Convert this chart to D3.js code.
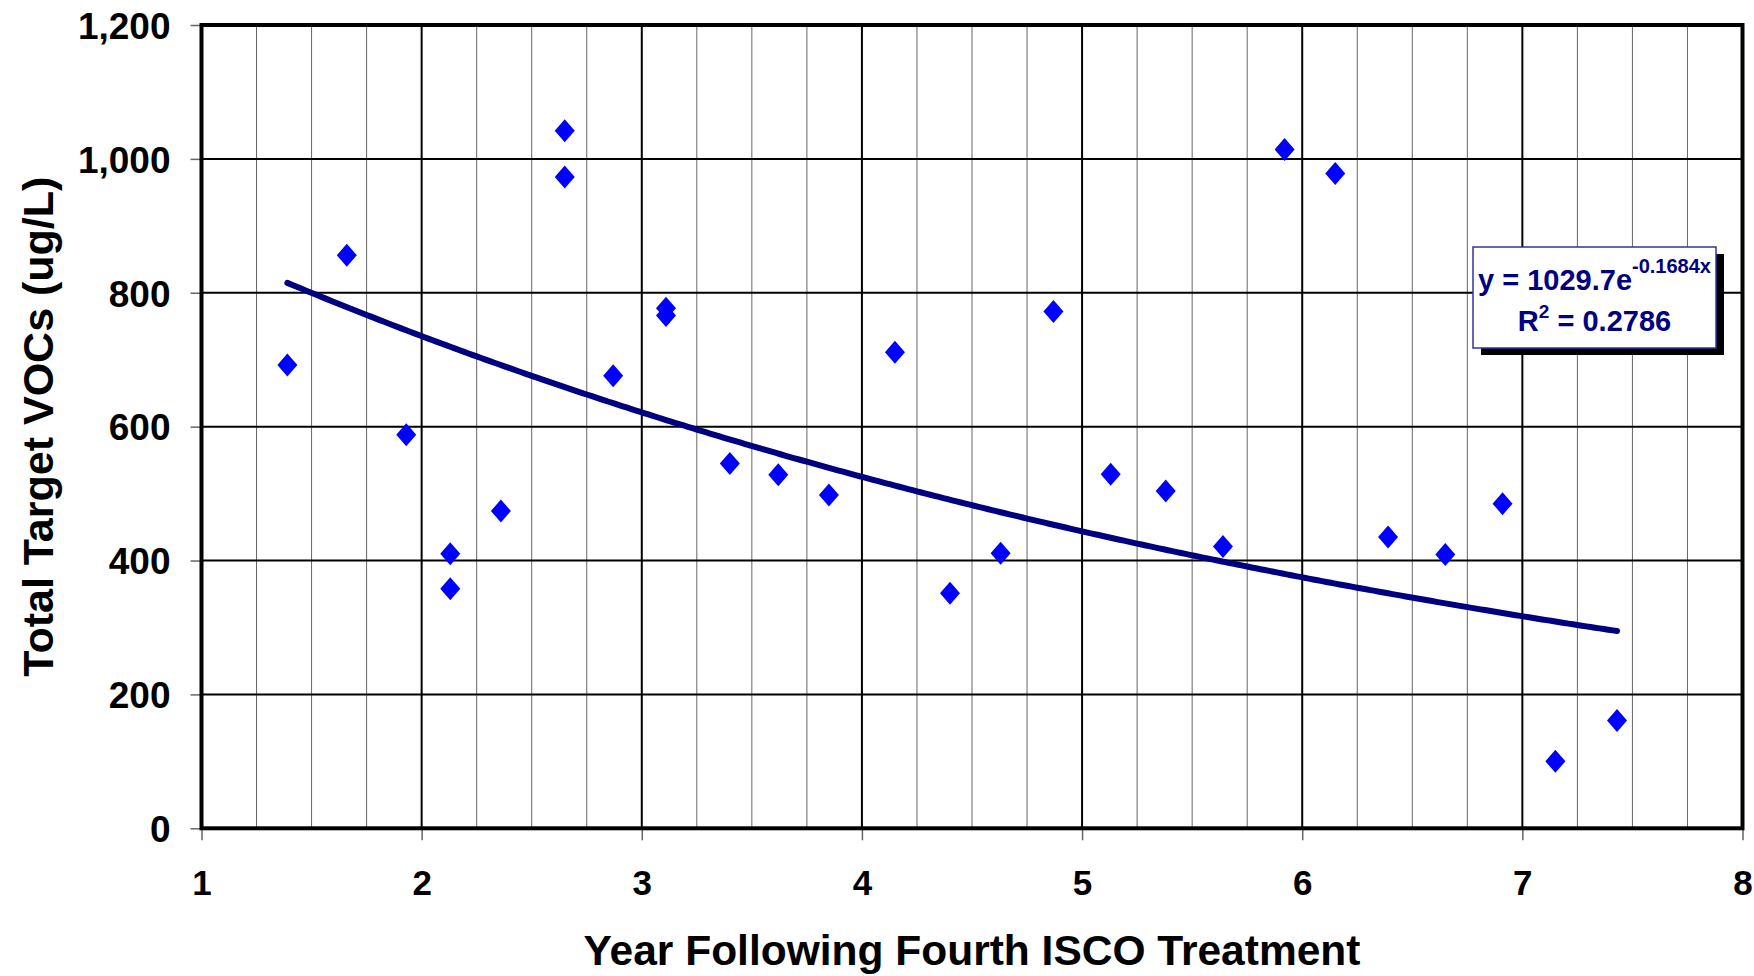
<!DOCTYPE html>
<html>
<head>
<meta charset="utf-8">
<script src="https://cdn.jsdelivr.net/npm/d3@7"></script>
<style>
  html, body { margin: 0; padding: 0; background: #fff; }
  svg text { font-family: "Liberation Sans", Arial, sans-serif; font-weight: bold; }
</style>
</head>
<body>
<div id="chart"></div>
<script>
// sample points
const years = [1.39, 1.66, 1.93, 2.13, 2.13, 2.36, 2.65, 2.65, 2.87, 3.11, 3.11, 3.40, 3.62, 3.85,
               4.15, 4.40, 4.63, 4.87, 5.13, 5.38, 5.64, 5.92, 6.15, 6.39, 6.65, 6.91, 7.15, 7.43];
const vocs = [692, 856, 588, 410, 358, 474, 1042, 973, 676, 777, 766, 545, 528, 498,
              711, 351, 411, 772, 529, 504, 421, 1014, 978, 435, 409, 485, 100, 161];

// exponential trendline as printed on the chart
const trendA = 1029.7;
const trendB = -0.1684;
const trendR2 = 0.2786;

const xTicks = [1, 2, 3, 4, 5, 6, 7, 8];
const yTicks = [0, 200, 400, 600, 800, 1000, 1200];

const W = 1754, H = 976;
const margin = { top: 25, right: 11.5, bottom: 147.7, left: 201.5 };
const width = W - margin.left - margin.right;
const height = H - margin.top - margin.bottom;

const svg = d3.select("#chart").append("svg")
    .attr("width", W)
    .attr("height", H);

const g = svg.append("g")
    .attr("transform", `translate(${margin.left},${margin.top})`);

const x = d3.scaleLinear().domain([1, 8]).range([0, width]);
const y = d3.scaleLinear().domain([0, 1200]).range([height, 0]);

// minor vertical grid every quarter year
const minorX = d3.range(1, 8.001, 0.25).filter(v => !Number.isInteger(v));
g.append("g").selectAll("line").data(minorX).join("line")
    .attr("x1", d => x(d)).attr("x2", d => x(d))
    .attr("y1", 0).attr("y2", height)
    .attr("stroke", "#666").attr("stroke-width", 1);

// major grid
g.append("g").selectAll("line").data(xTicks).join("line")
    .attr("x1", d => x(d)).attr("x2", d => x(d))
    .attr("y1", 0).attr("y2", height)
    .attr("stroke", "#000").attr("stroke-width", 2);
g.append("g").selectAll("line").data(yTicks).join("line")
    .attr("x1", 0).attr("x2", width)
    .attr("y1", d => y(d)).attr("y2", d => y(d))
    .attr("stroke", "#000").attr("stroke-width", 2);

// axes
const yAxis = g.append("g")
    .call(d3.axisLeft(y).tickValues(yTicks).tickFormat(d3.format(",")).tickSize(11).tickPadding(20));
const xAxis = g.append("g")
    .attr("transform", `translate(0,${height})`)
    .call(d3.axisBottom(x).tickValues(xTicks).tickFormat(d3.format("d")).tickSize(12).tickPadding(30));

[yAxis, xAxis].forEach(a => {
    a.select(".domain").remove();
    a.selectAll(".tick line").attr("stroke", "#666").attr("stroke-width", 1.5);
    a.selectAll(".tick text").attr("fill", "#000");
});
yAxis.selectAll(".tick text").style("font-size", "37px").attr("dy", "0.36em");
xAxis.selectAll(".tick text").style("font-size", "35px").attr("dy", "0.72em");

// plot frame
g.append("rect")
    .attr("x", 0).attr("y", 0)
    .attr("width", width).attr("height", height)
    .attr("fill", "none")
    .attr("stroke", "#000")
    .attr("stroke-width", 4);

// trendline
const trendX = d3.range(years[0], years[years.length - 1] + 0.0001, 0.02);
const line = d3.line()
    .x(d => x(d))
    .y(d => y(trendA * Math.exp(trendB * d)));
g.append("path")
    .datum(trendX)
    .attr("d", line)
    .attr("fill", "none")
    .attr("stroke", "#000080")
    .attr("stroke-width", 6)
    .attr("stroke-linecap", "round");

// diamond markers
const pts = years.map((yr, i) => ({ yr, v: vocs[i] }));
g.append("g").selectAll("path").data(pts).join("path")
    .attr("transform", d => `translate(${x(d.yr)},${y(d.v)})`)
    .attr("d", "M0,-11.5L10,0L0,11.5L-10,0Z")
    .attr("fill", "#0000ff");

// axis titles
svg.append("text")
    .attr("x", margin.left + width / 2)
    .attr("y", 965)
    .attr("text-anchor", "middle")
    .style("font-size", "42.5px")
    .text("Year Following Fourth ISCO Treatment");

svg.append("text")
    .attr("transform", `translate(53,${margin.top + height / 2}) rotate(-90)`)
    .attr("text-anchor", "middle")
    .style("font-size", "43px")
    .text("Total Target VOCs (ug/L)");

// equation box
const box = { x: 1473, y: 247, w: 243, h: 101 };
svg.append("rect")
    .attr("x", box.x + 8).attr("y", box.y + 7)
    .attr("width", box.w).attr("height", box.h)
    .attr("fill", "#000");
svg.append("rect")
    .attr("x", box.x).attr("y", box.y)
    .attr("width", box.w).attr("height", box.h)
    .attr("fill", "#fff")
    .attr("stroke", "#33339a")
    .attr("stroke-width", 1.5);

const eq1 = svg.append("text")
    .attr("x", box.x + box.w / 2)
    .attr("y", 290)
    .attr("text-anchor", "middle")
    .attr("fill", "#000080")
    .style("font-size", "29px");
eq1.append("tspan").text(`y = ${trendA}e`);
eq1.append("tspan").attr("dy", -17).style("font-size", "20px").text(`${trendB}x`);

const eq2 = svg.append("text")
    .attr("x", box.x + box.w / 2)
    .attr("y", 331)
    .attr("text-anchor", "middle")
    .attr("fill", "#000080")
    .style("font-size", "29px");
eq2.append("tspan").text("R");
eq2.append("tspan").attr("dy", -13).style("font-size", "19px").text("2");
eq2.append("tspan").attr("dy", 13).text(` = ${trendR2}`);
</script>
</body>
</html>
